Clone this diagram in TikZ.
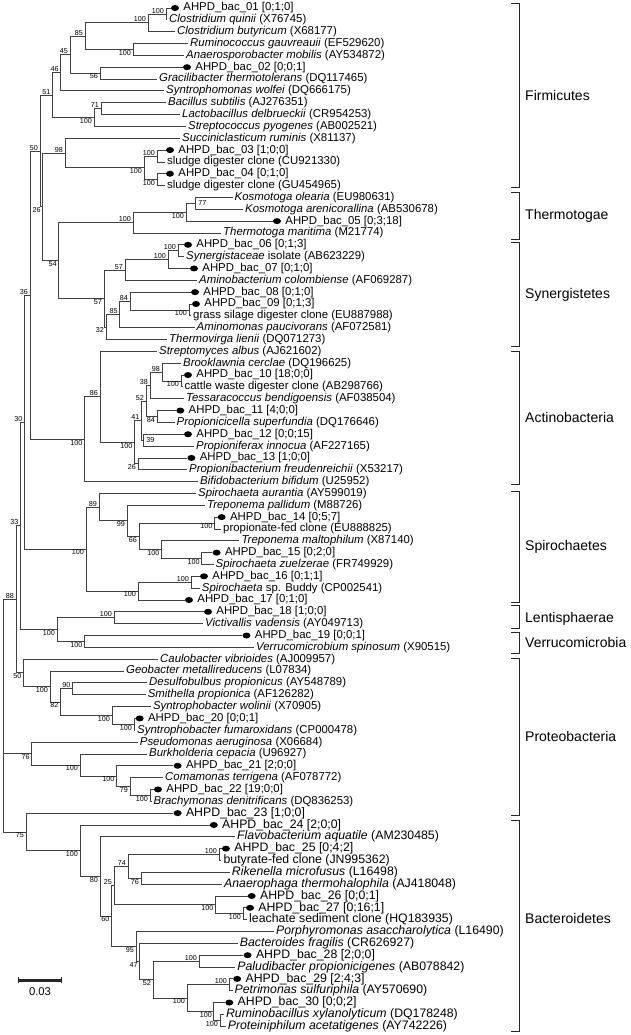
\documentclass[tikz,border=0pt]{standalone}
\usepackage{fontspec}
\setmainfont{Liberation Sans}
\usetikzlibrary{shapes.geometric}
\tikzset{
  br/.style={draw=black!75, line width=0.8pt},
  tx/.style={anchor=west, inner xsep=2pt, inner ysep=0pt, font=\fontsize{11.4}{12}\selectfont},
  txb/.style={tx, font=\fontsize{12.3}{13}\selectfont},
  otu/.style={ellipse, fill=black, minimum width=8pt, minimum height=6pt, inner sep=0pt},
  bup/.style={anchor=south east, inner sep=0.6pt, xshift=-1.2pt, font=\fontsize{7.2}{8}\selectfont},
  bdn/.style={anchor=north east, inner sep=0.6pt, xshift=-1.2pt, font=\fontsize{7.2}{8}\selectfont},
  bin/.style={anchor=west, inner sep=0.6pt, xshift=2.5pt, font=\fontsize{7.2}{8}\selectfont},
  phylum/.style={anchor=west, inner sep=0pt, font=\fontsize{14}{16}\selectfont},
  brk/.style={draw=black!85, line width=0.9pt}
}
% dot, then the clone name
\newcommand\otu[5][tx]{%
  \node[otu] (#2) at (#3,#4) {};
  \node[#1] (#2l) at ([xshift=2pt]#2.east) {AHPD\_bac\_#5};}

\begin{document}
\begin{tikzpicture}[x=1pt, y=-11.84pt]
    \useasboundingbox (0,0.3243) rectangle (630,87.74);

    % leaves
    \otu{t1}{175}{1}{01 [0;1;0]}
    \node[tx] (t2) at (167,2) {\textit{Clostridium quinii} (X76745)};
    \node[tx] (t3) at (175,3) {\textit{Clostridium butyricum} (X68177)};
    \node[tx] (t4) at (188,4) {\textit{Ruminococcus gauvreauii} (EF529620)};
    \node[tx] (t5) at (184,5) {\textit{Anaerosporobacter mobilis} (AY534872)};
    \otu{t6}{187}{6}{02 [0;0;1]}
    \node[tx] (t7) at (157,7) {\textit{Gracilibacter thermotolerans} (DQ117465)};
    \node[tx] (t8) at (164,8) {\textit{Syntrophomonas wolfei} (DQ666175)};
    \node[tx] (t9) at (166,9) {\textit{Bacillus subtilis} (AJ276351)};
    \node[tx] (t10) at (180,10) {\textit{Lactobacillus delbrueckii} (CR954253)};
    \node[tx] (t11) at (186,11) {\textit{Streptococcus pyogenes} (AB002521)};
    \node[tx] (t12) at (180,12) {\textit{Succiniclasticum ruminis} (X81137)};
    \otu{t13}{170}{13}{03 [1;0;0]}
    \node[tx] (t14) at (165,14) {sludge digester clone (CU921330)};
    \otu{t15}{170}{15}{04 [0;1;0]}
    \node[tx] (t16) at (165,16) {sludge digester clone (GU454965)};
    \node[tx] (t17) at (232.5,17) {\textit{Kosmotoga olearia} (EU980631)};
    \node[tx] (t18) at (243,18) {\textit{Kosmotoga arenicorallina} (AB530678)};
    \otu{t19}{277}{19}{05 [0;3;18]}
    \node[tx] (t20) at (221,20) {\textit{Thermotoga maritima} (M21774)};
    \otu{t21}{188}{21}{06 [0;1;3]}
    \node[tx] (t22) at (184,22) {\textit{Synergistaceae} isolate (AB623229)};
    \otu{t23}{194}{23}{07 [0;1;0]}
    \node[tx] (t24) at (197,24) {\textit{Aminobacterium colombiense} (AF069287)};
    \otu{t25}{195}{25}{08 [0;1;0]}
    \otu{t26}{196}{26}{09 [0;1;3]}
    \node[tx] (t27) at (191,27) {grass silage digester clone (EU887988)};
    \node[tx] (t28) at (194.5,28) {\textit{Aminomonas paucivorans} (AF072581)};
    \node[tx] (t29) at (167,29) {\textit{Thermovirga lienii} (DQ071273)};
    \node[tx] (t30) at (157,30) {\textit{Streptomyces albus} (AJ621602)};
    \node[tx] (t31) at (181,31) {\textit{Brooklawnia cerclae} (DQ196625)};
    \otu{t32}{188}{32}{10 [18;0;0]}
    \node[tx] (t33) at (182.5,33) {cattle waste digester clone (AB298766)};
    \node[tx] (t34) at (184,34) {\textit{Tessaracoccus bendigoensis} (AF038504)};
    \otu{t35}{180.3}{35}{11 [4;0;0]}
    \node[tx] (t36) at (174.5,36) {\textit{Propionicicella superfundia} (DQ176646)};
    \otu{t37}{188}{37}{12 [0;0;15]}
    \node[tx] (t38) at (194,38) {\textit{Propioniferax innocua} (AF227165)};
    \otu{t39}{191.4}{39}{13 [1;0;0]}
    \node[tx] (t40) at (187,40) {\textit{Propionibacterium freudenreichii} (X53217)};
    \node[tx] (t41) at (198,41) {\textit{Bifidobacterium bifidum} (U25952)};
    \node[tx] (t42) at (196,42) {\textit{Spirochaeta aurantia} (AY599019)};
    \node[tx] (t43) at (205,43) {\textit{Treponema pallidum} (M88726)};
    \otu{t44}{221.7}{44}{14 [0;5;7]}
    \node[tx] (t45) at (221,45) {propionate-fed clone (EU888825)};
    \node[tx] (t46) at (239.4,46) {\textit{Treponema maltophilum} (X87140)};
    \otu{t47}{216.6}{47}{15 [0;2;0]}
    \node[tx] (t48) at (213.5,48) {\textit{Spirochaeta zuelzerae} (FR749929)};
    \otu{t49}{204}{49}{16 [0;1;1]}
    \node[tx] (t50) at (199.7,50) {\textit{Spirochaeta} sp. Buddy (CP002541)};
    \otu{t51}{189}{51}{17 [0;1;0]}
    \otu{t52}{208}{52}{18 [1;0;0]}
    \node[tx] (t53) at (203,53) {\textit{Victivallis vadensis} (AY049713)};
    \otu{t54}{246.5}{54}{19 [0;0;1]}
    \node[tx] (t55) at (254,55) {\textit{Verrucomicrobium spinosum} (X90515)};
    \node[tx] (t56) at (158,56) {\textit{Caulobacter vibrioides} (AJ009957)};
    \node[tx] (t57) at (124,57) {\textit{Geobacter metallireducens} (L07834)};
    \node[tx] (t58) at (147,58) {\textit{Desulfobulbus propionicus} (AY548789)};
    \node[tx] (t59) at (145.6,59) {\textit{Smithella propionica} (AF126282)};
    \node[tx] (t60) at (150.8,60) {\textit{Syntrophobacter wolinii} (X70905)};
    \otu{t61}{139.7}{61}{20 [0;0;1]}
    \node[tx] (t62) at (135,62) {\textit{Syntrophobacter fumaroxidans} (CP000478)};
    \node[tx] (t63) at (137.7,63) {\textit{Pseudomonas aeruginosa} (X06684)};
    \node[tx] (t64) at (147,64) {\textit{Burkholderia cepacia} (U96927)};
    \otu{t65}{177.6}{65}{21 [2;0;0]}
    \node[tx] (t66) at (163,66) {\textit{Comamonas terrigena} (AF078772)};
    \otu{t67}{158}{67}{22 [19;0;0]}
    \node[tx] (t68) at (151.5,68) {\textit{Brachymonas denitrificans} (DQ836253)};
    \otu[txb]{t69}{177.6}{69}{23 [1;0;0]}
    \otu[txb]{t70}{213.8}{70}{24 [2;0;0]}
    \node[txb] (t71) at (235,71) {\textit{Flavobacterium aquatile} (AM230485)};
    \otu[txb]{t72}{225.9}{72}{25 [0;4;2]}
    \node[txb] (t73) at (221.4,73) {butyrate-fed clone (JN995362)};
    \node[txb] (t74) at (229.7,74) {\textit{Rikenella microfusus} (L16498)};
    \node[txb] (t75) at (222,75) {\textit{Anaerophaga thermohalophila} (AJ418048)};
    \otu[txb]{t76}{251.7}{76}{26 [0;0;1]}
    \otu[txb]{t77}{250}{77}{27 [0;16;1]}
    \node[txb] (t78) at (247,78) {leachate sediment clone (HQ183935)};
    \node[txb] (t79) at (273.9,79) {\textit{Porphyromonas asaccharolytica} (L16490)};
    \node[txb] (t80) at (237.7,80) {\textit{Bacteroides fragilis} (CR626927)};
    \otu[txb]{t81}{247.6}{81}{28 [2;0;0]}
    \node[txb] (t82) at (235.2,82) {\textit{Paludibacter propionicigenes} (AB078842)};
    \otu[txb]{t83}{237.2}{83}{29 [2;4;3]}
    \node[txb] (t84) at (232.5,84) {\textit{Petrimonas sulfuriphila} (AY570690)};
    \otu[txb]{t85}{229.3}{85}{30 [0;0;2]}
    \node[txb] (t86) at (223.9,86) {\textit{Ruminobacillus xylanolyticum} (DQ178248)};
    \node[txb] (t87) at (225.6,87) {\textit{Proteiniphilum acetatigenes} (AY742226)};

    % inner nodes
    \coordinate (n1) at (166,1.5);   \coordinate (n2) at (148,2.25);
    \coordinate (n4) at (133,4.5);   \coordinate (n3) at (85,3.375);
    \coordinate (n6) at (100,6.5);   \coordinate (n5) at (70,4.9375);
    \coordinate (n7) at (60.7,6.46875);
    \coordinate (n10) at (101,9.5);  \coordinate (n9) at (94,10.25);
    \coordinate (n8) at (52.3,8.359375);
    \coordinate (n15) at (157,13.5); \coordinate (n16) at (157,15.5);
    \coordinate (n14) at (144,14.5); \coordinate (n13) at (65,13.25);
    \coordinate (n20) at (195,17.5); \coordinate (n19) at (186,18.25);
    \coordinate (n18) at (133,19.125);
    \coordinate (n22) at (178,21.5); \coordinate (n23) at (168,22.25);
    \coordinate (n24) at (125,23.125);
    \coordinate (n31) at (189,26.5); \coordinate (n30) at (130,25.75);
    \coordinate (n29) at (119.7,26.875); \coordinate (n28) at (106,27.9375);
    \coordinate (n26) at (104,25.53125); \coordinate (n17) at (58.6,22.328125);
    \coordinate (n12) at (42.7,17.7890625); \coordinate (n11) at (40,13.07421875);
    \coordinate (n39) at (181,32.5); \coordinate (n40) at (162,31.75);
    \coordinate (n41) at (150,32.875); \coordinate (n43) at (157,35.5);
    \coordinate (n42) at (146,34.1875); \coordinate (n47) at (143,37.5);
    \coordinate (n44) at (141.4,35.84375); \coordinate (n46) at (138,39.5);
    \coordinate (n37) at (134.5,37.671875); \coordinate (n36) at (100,33.8359375);
    \coordinate (n38) at (84.5,37.41796875); \coordinate (n25) at (30,25.24609375);
    \coordinate (n50) at (214.5,44.5); \coordinate (n51) at (201.7,47.5);
    \coordinate (n52) at (161.4,46.75); \coordinate (n53) at (139,45.625);
    \coordinate (n54) at (127,44.3125); \coordinate (n55) at (99,43.15625);
    \coordinate (n56) at (191,49.5); \coordinate (n57) at (138,50.25);
    \coordinate (n58) at (86,46.703125); \coordinate (n33) at (24.5,35.974609375);
    \coordinate (n59) at (114,52.5); \coordinate (n61) at (84.5,54.5);
    \coordinate (n60) at (57,53.5);  \coordinate (n34) at (20.5,44.7373046875);
    \coordinate (n66) at (72.4,58.5); \coordinate (n68) at (134,61.5);
    \coordinate (n67) at (112,60.75); \coordinate (n65) at (60.3,59.625);
    \coordinate (n64) at (50,58.3125); \coordinate (n63) at (23.4,57.15625);
    \coordinate (n97) at (16,50.94677734375);
    \coordinate (n73) at (150,67.5); \coordinate (n72) at (130,66.75);
    \coordinate (n71) at (116.5,65.875); \coordinate (n70) at (80,64.9375);
    \coordinate (n69) at (31.7,63.96875);
    \coordinate (n81) at (219,72.5); \coordinate (n82) at (141,74.5);
    \coordinate (n83) at (128,73.5); \coordinate (n86) at (243,77.5);
    \coordinate (n84) at (215.5,76.75); \coordinate (n87) at (114,75.125);
    \coordinate (n92) at (199,81.5); \coordinate (n94) at (229,83.5);
    \coordinate (n96) at (220,86.5); \coordinate (n95) at (213.8,85.75);
    \coordinate (n93) at (187,84.625); \coordinate (n91) at (153,83.0625);
    \coordinate (n90) at (139.6,81.53125); \coordinate (n89) at (136,80.265625);
    \coordinate (n80) at (111.5,77.6953125); \coordinate (n79) at (100,74.34765625);
    \coordinate (n78) at (80,72.173828125); \coordinate (n77) at (26,70.5869140625);
    \coordinate (root) at (3.4,63.96875);

    % branches
    \draw[br] (n1) |- (t1) (n1) |- (t2) (n2) |- (n1) (n2) |- (t3);
    \draw[br] (n4) |- (t4) (n4) |- (t5) (n3) |- (n2) (n3) |- (n4);
    \draw[br] (n6) |- (t6) (n6) |- (t7) (n5) |- (n3) (n5) |- (n6);
    \draw[br] (n7) |- (n5) (n7) |- (t8);
    \draw[br] (n10) |- (t9) (n10) |- (t10) (n9) |- (n10) (n9) |- (t11);
    \draw[br] (n8) |- (n7) (n8) |- (n9);
    \draw[br] (n15) |- (t13) (n15) |- (t14) (n16) |- (t15) (n16) |- (t16);
    \draw[br] (n14) |- (n15) (n14) |- (n16) (n13) |- (t12) (n13) |- (n14);
    \draw[br] (n20) |- (t17) (n20) |- (t18) (n19) |- (n20) (n19) |- (t19);
    \draw[br] (n18) |- (n19) (n18) |- (t20);
    \draw[br] (n22) |- (t21) (n22) |- (t22) (n23) |- (n22) (n23) |- (t23);
    \draw[br] (n24) |- (n23) (n24) |- (t24);
    \draw[br] (n31) |- (t26) (n31) |- (t27) (n30) |- (t25) (n30) |- (n31);
    \draw[br] (n29) |- (n30) (n29) |- (t28) (n28) |- (n29) (n28) |- (t29);
    \draw[br] (n26) |- (n24) (n26) |- (n28) (n17) |- (n18) (n17) |- (n26);
    \draw[br] (n12) |- (n13) (n12) |- (n17) (n11) |- (n8) (n11) |- (n12);
    \draw[br] (n39) |- (t32) (n39) |- (t33) (n40) |- (t31) (n40) |- (n39);
    \draw[br] (n41) |- (n40) (n41) |- (t34) (n43) |- (t35) (n43) |- (t36);
    \draw[br] (n42) |- (n41) (n42) |- (n43) (n47) |- (t37) (n47) |- (t38);
    \draw[br] (n44) |- (n42) (n44) |- (n47) (n46) |- (t39) (n46) |- (t40);
    \draw[br] (n37) |- (n44) (n37) |- (n46) (n36) |- (t30) (n36) |- (n37);
    \draw[br] (n38) |- (n36) (n38) |- (t41) (n25) |- (n11) (n25) |- (n38);
    \draw[br] (n50) |- (t44) (n50) |- (t45) (n51) |- (t47) (n51) |- (t48);
    \draw[br] (n52) |- (t46) (n52) |- (n51) (n53) |- (n50) (n53) |- (n52);
    \draw[br] (n54) |- (t43) (n54) |- (n53) (n55) |- (t42) (n55) |- (n54);
    \draw[br] (n56) |- (t49) (n56) |- (t50) (n57) |- (n56) (n57) |- (t51);
    \draw[br] (n58) |- (n55) (n58) |- (n57) (n33) |- (n25) (n33) |- (n58);
    \draw[br] (n59) |- (t52) (n59) |- (t53) (n61) |- (t54) (n61) |- (t55);
    \draw[br] (n60) |- (n59) (n60) |- (n61) (n34) |- (n33) (n34) |- (n60);
    \draw[br] (n66) |- (t58) (n66) |- (t59) (n68) |- (t61) (n68) |- (t62);
    \draw[br] (n67) |- (t60) (n67) |- (n68) (n65) |- (n66) (n65) |- (n67);
    \draw[br] (n64) |- (t57) (n64) |- (n65) (n63) |- (t56) (n63) |- (n64);
    \draw[br] (n97) |- (n34) (n97) |- (n63);
    \draw[br] (n73) |- (t67) (n73) |- (t68) (n72) |- (t66) (n72) |- (n73);
    \draw[br] (n71) |- (t65) (n71) |- (n72) (n70) |- (t64) (n70) |- (n71);
    \draw[br] (n69) |- (t63) (n69) |- (n70);
    \draw[br] (n81) |- (t72) (n81) |- (t73) (n82) |- (t74) (n82) |- (t75);
    \draw[br] (n83) |- (n81) (n83) |- (n82) (n86) |- (t77) (n86) |- (t78);
    \draw[br] (n84) |- (t76) (n84) |- (n86) (n87) |- (n83) (n87) |- (n84);
    \draw[br] (n92) |- (t81) (n92) |- (t82) (n94) |- (t83) (n94) |- (t84);
    \draw[br] (n96) |- (t86) (n96) |- (t87) (n95) |- (t85) (n95) |- (n96);
    \draw[br] (n93) |- (n94) (n93) |- (n95) (n91) |- (n92) (n91) |- (n93);
    \draw[br] (n90) |- (t80) (n90) |- (n91) (n89) |- (t79) (n89) |- (n90);
    \draw[br] (n80) |- (n87) (n80) |- (n89) (n79) |- (t71) (n79) |- (n80);
    \draw[br] (n78) |- (t70) (n78) |- (n79) (n77) |- (t69) (n77) |- (n78);
    \draw[br] (root) |- (n97) (root) |- (n69) (root) |- (n77);

    % bootstrap values
    \node[bup] (b1) at (n1) {100};   \node[bup] (b2) at (n2) {100};
    \node[bdn] (b4) at (n4) {100};   \node[bup] (b3) at (n3) {85};
    \node[bdn] (b6) at (n6) {56};    \node[bup] (b5) at (n5) {45};
    \node[bup] (b7) at (n7) {46};    \node[bup] (b10) at (n10) {71};
    \node[bdn] (b9) at (n9) {100};   \node[bup] (b8) at (n8) {51};
    \node[bup] (b15) at (n15) {100}; \node[bdn] (b16) at (n16) {100};
    \node[bdn] (b14) at (n14) {100}; \node[bup] (b13) at (n13) {98};
    \node[bup] (b11) at (n11) {50};  \node[bdn] (b12) at (n12) {26};
    \node[bin] (b20) at (n20) {77};  \node[bdn] (b19) at (n19) {100};
    \node[bup] (b18) at (n18) {100}; \node[bup] (b22) at (n22) {100};
    \node[bup] (b23) at (n23) {100}; \node[bup] (b24) at (n24) {57};
    \node[bdn] (b31) at (n31) {100}; \node[bup] (b30) at (n30) {84};
    \node[bup] (b29) at (n29) {85};  \node[bdn] (b28) at (n28) {32};
    \node[bdn] (b26) at (n26) {57};  \node[bdn] (b17) at (n17) {54};
    \node[bup] (b25) at (n25) {36};  \node[bdn] (b39) at (n39) {100};
    \node[bup] (b40) at (n40) {98};  \node[bup] (b41) at (n41) {38};
    \node[bdn] (b43) at (n43) {84};  \node[bup] (b42) at (n42) {52};
    \node[bin] (b47) at (n47) {39};  \node[bup] (b44) at (n44) {41};
    \node[bdn] (b46) at (n46) {26};  \node[bdn] (b37) at (n37) {100};
    \node[bup] (b36) at (n36) {86};  \node[bdn] (b38) at (n38) {100};
    \node[bdn] (b50) at (n50) {100}; \node[bdn] (b51) at (n51) {100};
    \node[bdn] (b52) at (n52) {100}; \node[bdn] (b53) at (n53) {66};
    \node[bdn] (b54) at (n54) {99};  \node[bup] (b55) at (n55) {89};
    \node[bup] (b56) at (n56) {100}; \node[bdn] (b57) at (n57) {100};
    \node[bdn] (b58) at (n58) {100}; \node[bup] (b33) at (n33) {30};
    \node[bup] (b59) at (n59) {100}; \node[bdn] (b61) at (n61) {100};
    \node[bdn] (b60) at (n60) {100}; \node[bup] (b34) at (n34) {33};
    \node[bup] (b66) at (n66) {90};  \node[bdn] (b68) at (n68) {100};
    \node[bdn] (b67) at (n67) {100}; \node[bdn] (b65) at (n65) {82};
    \node[bdn] (b64) at (n64) {100}; \node[bdn] (b63) at (n63) {50};
    \node[bup] (b97) at (n97) {88};  \node[bdn] (b73) at (n73) {100};
    \node[bdn] (b72) at (n72) {79};  \node[bdn] (b71) at (n71) {100};
    \node[bdn] (b70) at (n70) {100}; \node[bdn] (b69) at (n69) {76};
    \node[bup] (b81) at (n81) {100}; \node[bdn] (b82) at (n82) {76};
    \node[bup] (b83) at (n83) {74};  \node[bdn] (b86) at (n86) {100};
    \node[bdn] (b84) at (n84) {100}; \node[bup] (b87) at (n87) {25};
    \node[bup] (b92) at (n92) {100}; \node[bup] (b94) at (n94) {100};
    \node[bdn] (b96) at (n96) {100}; \node[bdn] (b95) at (n95) {100};
    \node[bdn] (b93) at (n93) {100}; \node[bdn] (b91) at (n91) {52};
    \node[bdn] (b90) at (n90) {47};  \node[bdn] (b89) at (n89) {95};
    \node[bdn] (b80) at (n80) {60};  \node[bdn] (b79) at (n79) {80};
    \node[bdn] (b78) at (n78) {100}; \node[bdn] (b77) at (n77) {75};

    % phyla
    \draw[brk] (511,0.578) -| (519,16.118) -- (511,16.118);
    \draw[brk] (511,16.62) -| (519,20.54) -- (511,20.54);
    \draw[brk] (511,20.83) -| (519,29.59) -- (511,29.59);
    \draw[brk] (511,29.97) -| (519,41.24) -- (511,41.24);
    \draw[brk] (511,41.83) -| (519,51.24) -- (511,51.24);
    \draw[brk] (511,51.5) -| (519,53.4) -- (511,53.4);
    \draw[brk] (511,53.7) -| (519,55.5) -- (511,55.5);
    \draw[brk] (511,55.92) -| (519,69.16) -- (511,69.16);
    \draw[brk] (511,69.58) -| (519,87.4) -- (511,87.4);
    \node[phylum] (p1) at (525,8.35) {Firmicutes};
    \node[phylum] (p2) at (525,18.57) {Thermotogae};
    \node[phylum] (p3) at (525,25.2) {Synergistetes};
    \node[phylum] (p4) at (525,35.6) {Actinobacteria};
    \node[phylum] (p5) at (525,46.5) {Spirochaetes};
    \node[phylum] (p6) at (525,52.6) {Lentisphaerae};
    \node[phylum] (p7) at (525,54.6) {Verrucomicrobia};
    \node[phylum] (p8) at (525,62.5) {Proteobacteria};
    \node[phylum] (p9) at (525,77.9) {Bacteroidetes};

    % scale bar
    \draw[line width=2.4pt, black!85] (18,83.12) -- (62,83.12);
    \draw[line width=1.2pt, black!85] (18.6,82.87) -- (18.6,83.37) (61.4,82.87) -- (61.4,83.37);
    \node[inner sep=0pt, font=\fontsize{11.3}{12}\selectfont] (sb) at (40,84.06) {0.03};
\end{tikzpicture}
\end{document}
